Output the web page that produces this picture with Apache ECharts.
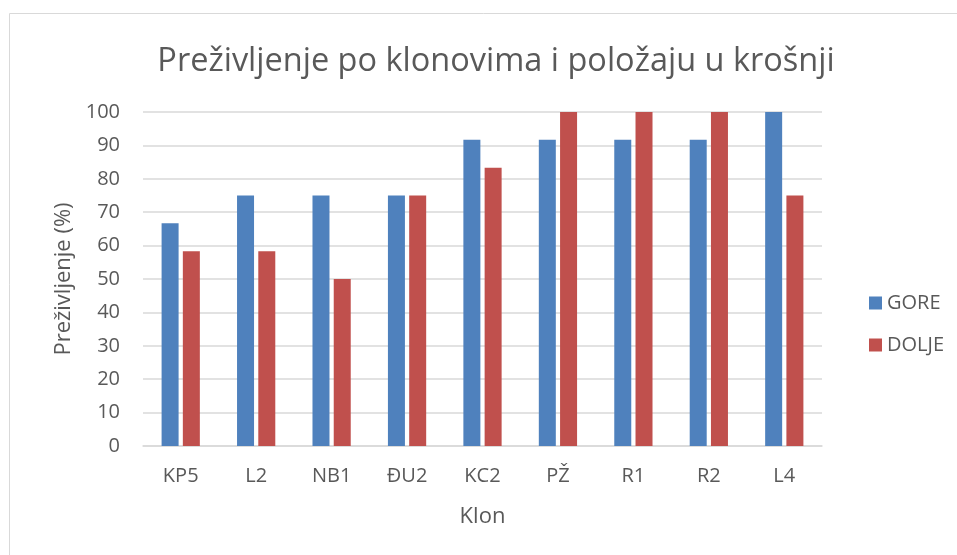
<!DOCTYPE html>
<html>
<head>
<meta charset="utf-8">
<style>html,body{margin:0;padding:0;background:#fff;}#c{width:957px;height:555px;}</style>
<script src="https://cdn.jsdelivr.net/npm/echarts@6/dist/echarts.min.js"></script>
</head>
<body>
<div id="c"></div>
<script>
const categories = ['KP5', 'L2', 'NB1', 'ĐU2', 'KC2', 'PŽ', 'R1', 'R2', 'L4'];
const gore = [66.67, 75, 75, 75, 91.67, 91.67, 91.67, 91.67, 100];
const dolje = [58.33, 58.33, 50, 75, 83.33, 100, 100, 100, 75];
const yTicks = [0, 10, 20, 30, 40, 50, 60, 70, 80, 90, 100];

const font = '"Open Sans", "Noto Sans", sans-serif';
const chart = echarts.init(document.getElementById('c'));
chart.setOption({
  animation: false,
  textStyle: { fontFamily: font, color: '#595959' },
  graphic: [{
    type: 'rect', silent: true,
    shape: { x: 9.5, y: 13.5, width: 1000, height: 600 },
    style: { fill: 'none', stroke: '#d9d9d9', lineWidth: 1 }
  }],
  title: {
    text: 'Preživljenje po klonovima i položaju u krošnji',
    left: 491, top: 40, textAlign: 'center',
    textStyle: { fontFamily: font, fontSize: 32.5, fontWeight: 'normal', color: '#595959' }
  },
  legend: {
    orient: 'vertical', left: 864, top: 288,
    itemWidth: 13, itemHeight: 13, itemGap: 22,
    icon: 'rect',
    textStyle: { fontFamily: font, fontSize: 20, color: '#595959' },
    data: ['GORE', 'DOLJE']
  },
  grid: { left: 143, right: 135, top: 112, bottom: 109, containLabel: false },
  xAxis: {
    type: 'category', data: categories,
    name: 'Klon', nameLocation: 'middle', nameGap: 60,
    nameTextStyle: { fontFamily: font, fontSize: 22, color: '#595959' },
    axisLine: { lineStyle: { color: '#d9d9d9', width: 1.5 } },
    axisTick: { show: false },
    axisLabel: { fontFamily: font, fontSize: 20, color: '#595959', margin: 20 }
  },
  yAxis: {
    type: 'value', min: 0, max: 100, interval: 10,
    name: 'Preživljenje (%)', nameLocation: 'middle', nameGap: 68,
    nameTextStyle: { fontFamily: font, fontSize: 22, color: '#595959' },
    axisLine: { show: false }, axisTick: { show: false },
    axisLabel: { fontFamily: font, fontSize: 20, color: '#595959', margin: 23,
      formatter: v => yTicks.includes(v) ? String(v) : '' },
    splitLine: { lineStyle: { color: '#d9d9d9', width: 1.5 } }
  },
  series: [
    { name: 'GORE', type: 'bar', data: gore, barWidth: 17, barGap: '25%',
      itemStyle: { color: '#4F81BD' } },
    { name: 'DOLJE', type: 'bar', data: dolje, barWidth: 17, barGap: '25%',
      itemStyle: { color: '#C0504D' } }
  ]
});
</script>
</body>
</html>
